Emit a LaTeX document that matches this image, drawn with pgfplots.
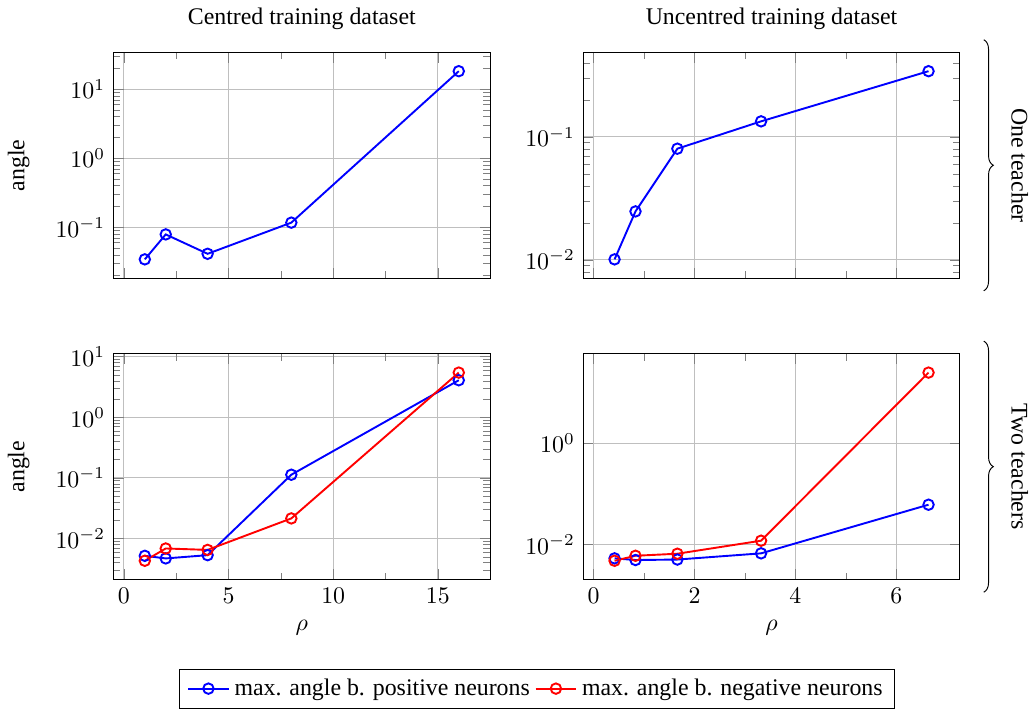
\documentclass[border=0pt]{standalone}
\usepackage{fontspec}
\setmainfont{Liberation Serif}
\usepackage{pgfplots}
\pgfplotsset{compat=1.18}
\usepgfplotslibrary{groupplots}
\usetikzlibrary{decorations.pathreplacing,calc}
\begin{document}
\begin{tikzpicture}
\begin{groupplot}[
  group style={group size=2 by 2, horizontal sep=39pt, vertical sep=31.7pt, xticklabels at=edge bottom},
  width=158pt, height=94.7pt, scale only axis,
  ymode=log, grid=major, minor x tick num=1,
  ylabel shift=4pt,
  every axis plot/.append style={thick, mark=o, mark size=2.2pt},
]
\nextgroupplot[title={Centred training dataset}, ylabel={angle}]
\addplot[blue] coordinates {(1,0.0344)(2,0.079)(4,0.0414)(8,0.117)(16,18.2)};
\nextgroupplot[title={Uncentred training dataset}, xtick={0,2,4,6}]
\addplot[blue] coordinates {(0.415,0.0101)(0.83,0.0248)(1.66,0.0803)(3.32,0.134)(6.64,0.343)};
\nextgroupplot[ylabel={angle}, xlabel={$\rho$},
  legend columns=2,
  legend style={at={(1.125,-0.394)}, anchor=north, draw=black}]
\addplot[blue] coordinates {(1,0.00519)(2,0.0047)(4,0.00532)(8,0.113)(16,4.09)};
\addlegendentry{max. angle b. positive neurons}
\addplot[red] coordinates {(1,0.0043)(2,0.00686)(4,0.0065)(8,0.0215)(16,5.47)};
\addlegendentry{max. angle b. negative neurons}
\nextgroupplot[xlabel={$\rho$}, xtick={0,2,4,6}, ytick={0.01,1}, yminorticks=false]
\addplot[blue] coordinates {(0.415,0.00528)(0.83,0.00489)(1.66,0.005)(3.32,0.00663)(6.64,0.0608)};
\addplot[red] coordinates {(0.415,0.00473)(0.83,0.00594)(1.66,0.00652)(3.32,0.0118)(6.64,25.0)};
\end{groupplot}
\draw[decorate, decoration={brace, amplitude=4pt}]
  ($(group c2r1.north east)+(10pt,5.3pt)$) -- ($(group c2r1.south east)+(10pt,-5.3pt)$)
  node[midway, xshift=8pt, rotate=-90, anchor=south] {One teacher};
\draw[decorate, decoration={brace, amplitude=4pt}]
  ($(group c2r2.north east)+(10pt,5.3pt)$) -- ($(group c2r2.south east)+(10pt,-5.3pt)$)
  node[midway, xshift=8pt, rotate=-90, anchor=south] {Two teachers};
\end{tikzpicture}
\end{document}
